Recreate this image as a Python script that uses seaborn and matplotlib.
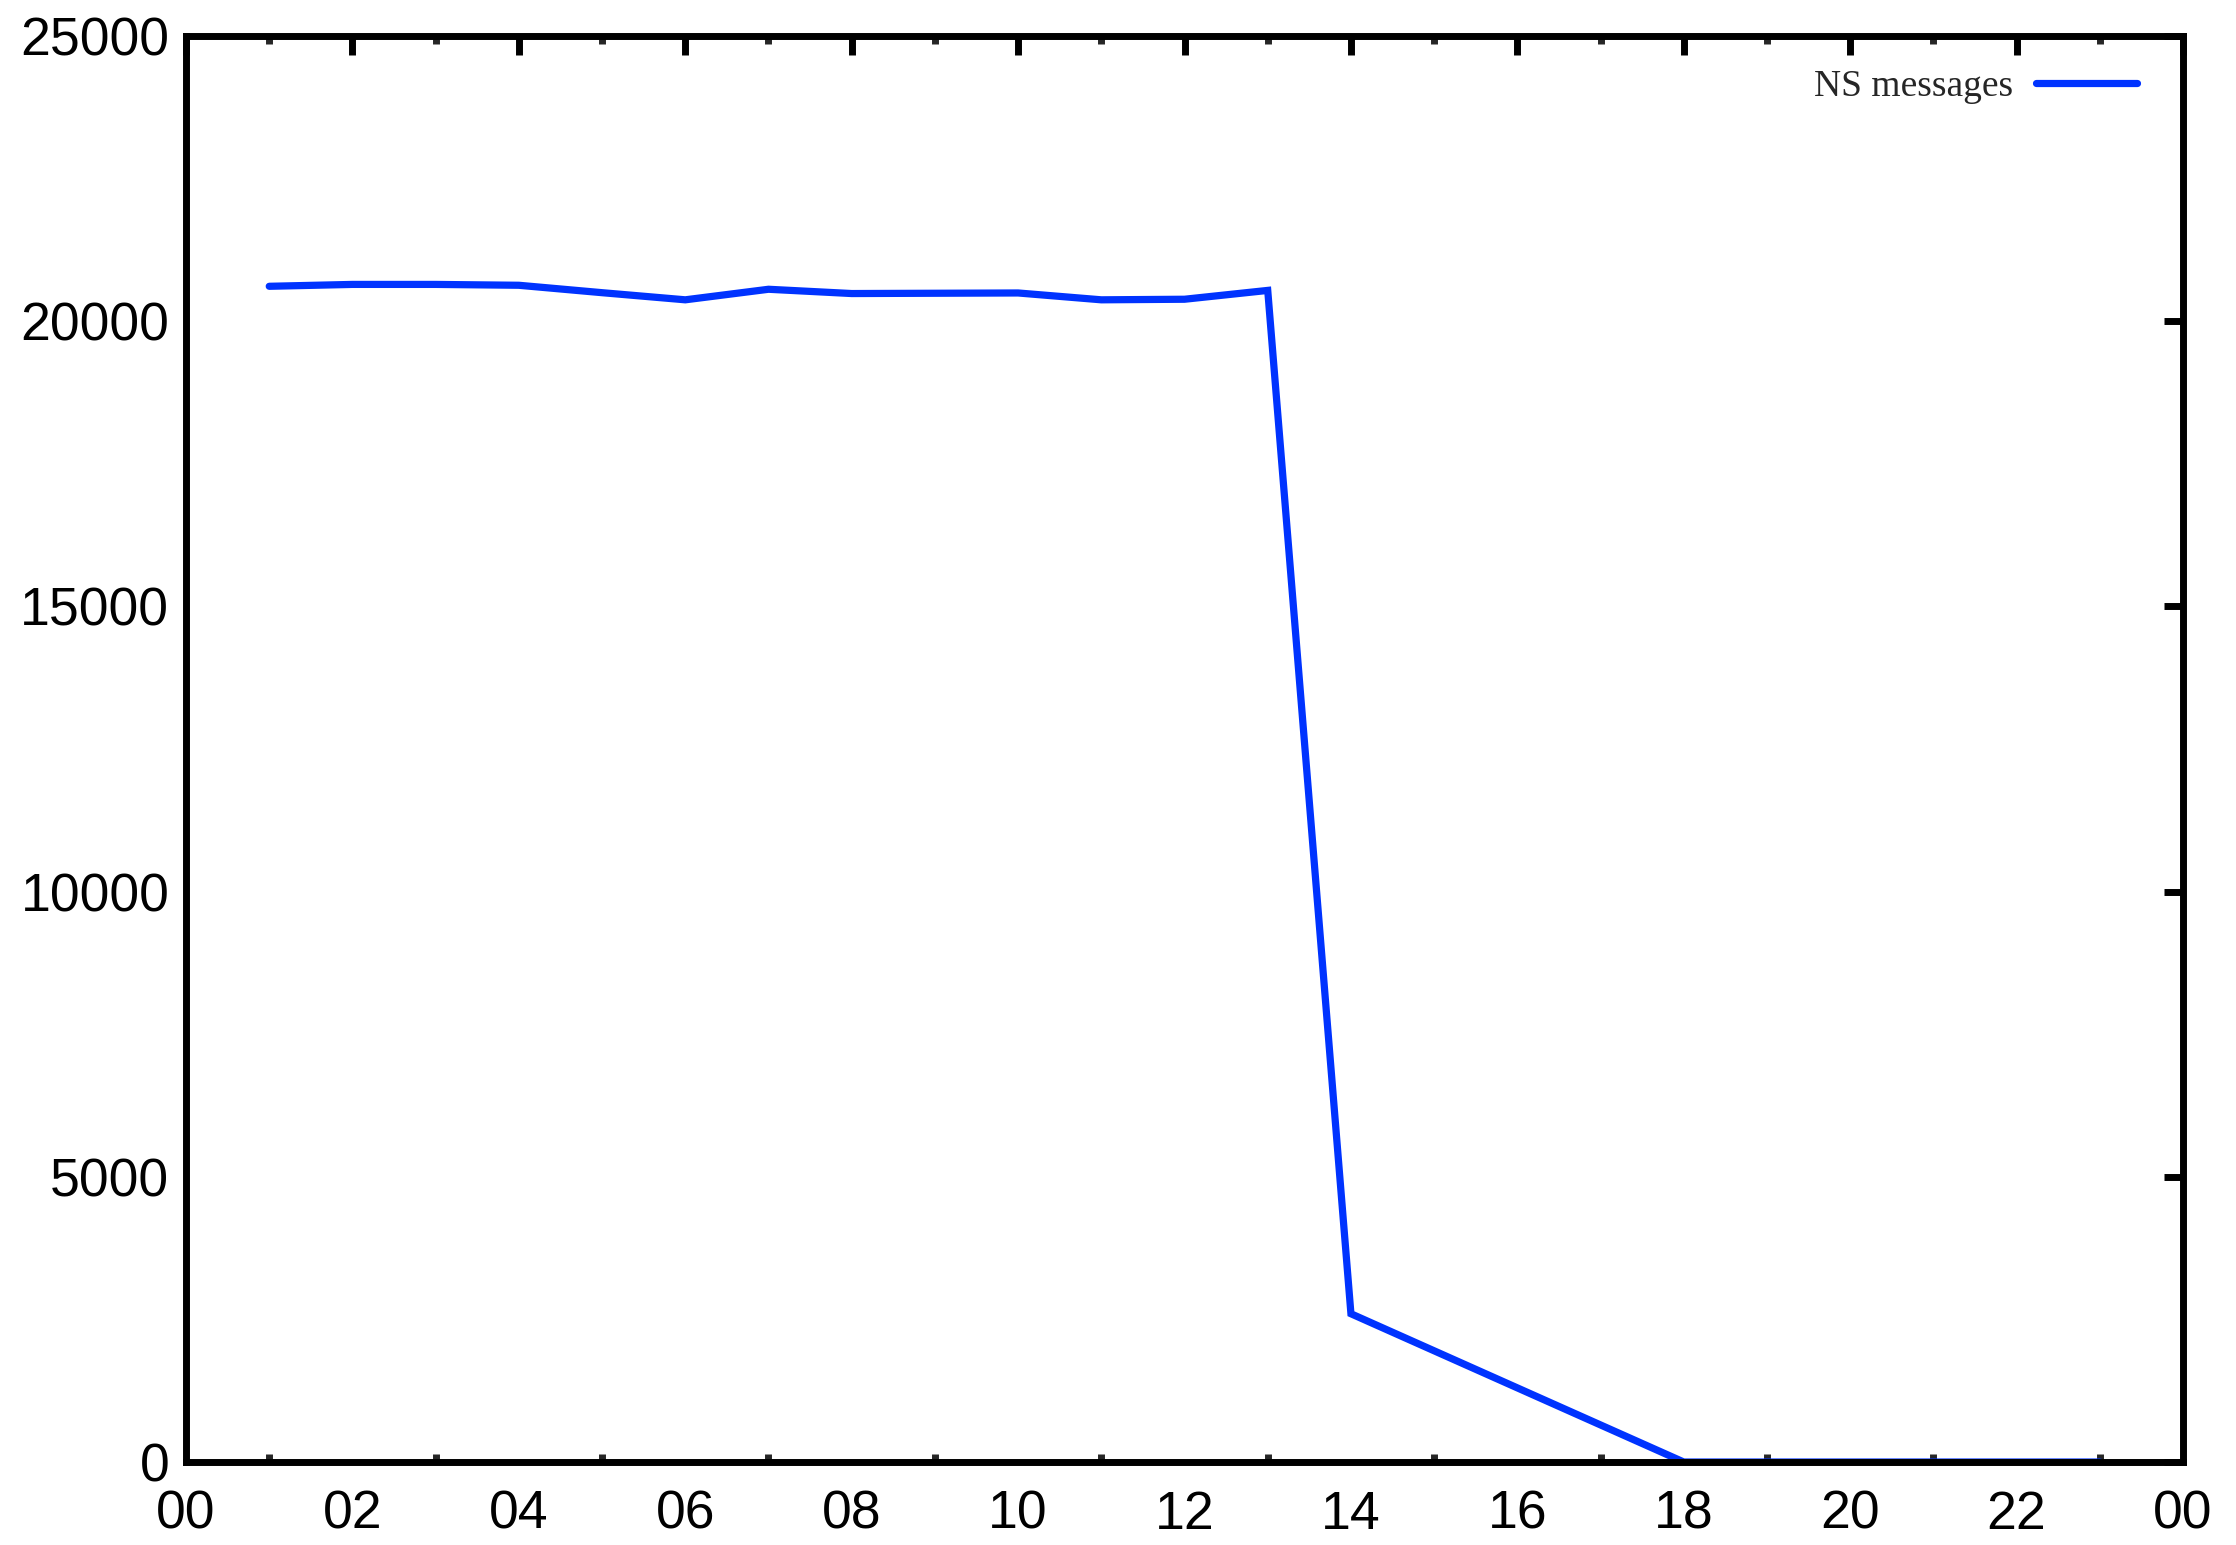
import numpy as np
import pandas as pd
import matplotlib
matplotlib.use("Agg")
import matplotlib.pyplot as plt
from matplotlib.ticker import MultipleLocator, FixedLocator
import seaborn as sns

# hourly NS message counts
hours = [1, 2, 3, 4, 5, 6, 7, 8, 9, 10, 11, 12, 13, 14, 15, 16, 17, 18, 19, 20, 21, 22, 23]
ns_messages = [20612, 20645, 20645, 20630, 20500, 20375, 20560, 20485, 20490, 20495,
               20375, 20385, 20540, 2600, 1950, 1300, 650, 0, 0, 0, 0, 0, 0]
xtick_pos = list(range(0, 25, 2))
xtick_labels = ["00", "02", "04", "06", "08", "10", "12", "14", "16", "18", "20", "22", "00"]
ytick_pos = [0, 5000, 10000, 15000, 20000, 25000]

df = pd.DataFrame({"hour": hours, "count": ns_messages})

sns.set_style("white")
plt.rcParams["font.family"] = ["Liberation Sans", "DejaVu Sans"]

fig = plt.figure(figsize=(22.36, 15.45), dpi=100)
ax = fig.add_axes([0.0832, 0.0537, 0.8931, 0.9230])

sns.lineplot(data=df, x="hour", y="count", ax=ax, color="#0033ff",
             linewidth=5.2, label="NS messages", solid_joinstyle="miter")

ax.set_xlim(0, 24)
ax.set_ylim(0, 25000)
ax.xaxis.set_major_locator(FixedLocator(xtick_pos))
ax.set_xticklabels(xtick_labels)
ax.xaxis.set_minor_locator(MultipleLocator(1))
ax.set_yticks(ytick_pos)
ax.set_yticklabels([str(v) for v in ytick_pos])
ax.set_xlabel("")
ax.set_ylabel("")

for s in ax.spines.values():
    s.set_linewidth(5)
    s.set_color("black")
    s.set_zorder(5)

ax.tick_params(axis="both", which="major", direction="in", length=14, width=5,
               top=True, right=True, labelsize=38.5, colors="black")
ax.tick_params(axis="x", which="minor", direction="in", length=6, width=5,
               top=True, bottom=True)
ax.tick_params(axis="x", which="major", pad=20)
ax.tick_params(axis="y", which="major", pad=12)

leg = ax.legend(loc="upper right", bbox_to_anchor=(0.994, 1.0), frameon=False,
                markerfirst=False, handlelength=2.7, handletextpad=0.6,
                prop={"family": ["Liberation Serif", "DejaVu Serif"], "size": 27})

fig.savefig("out.png", dpi=100)
